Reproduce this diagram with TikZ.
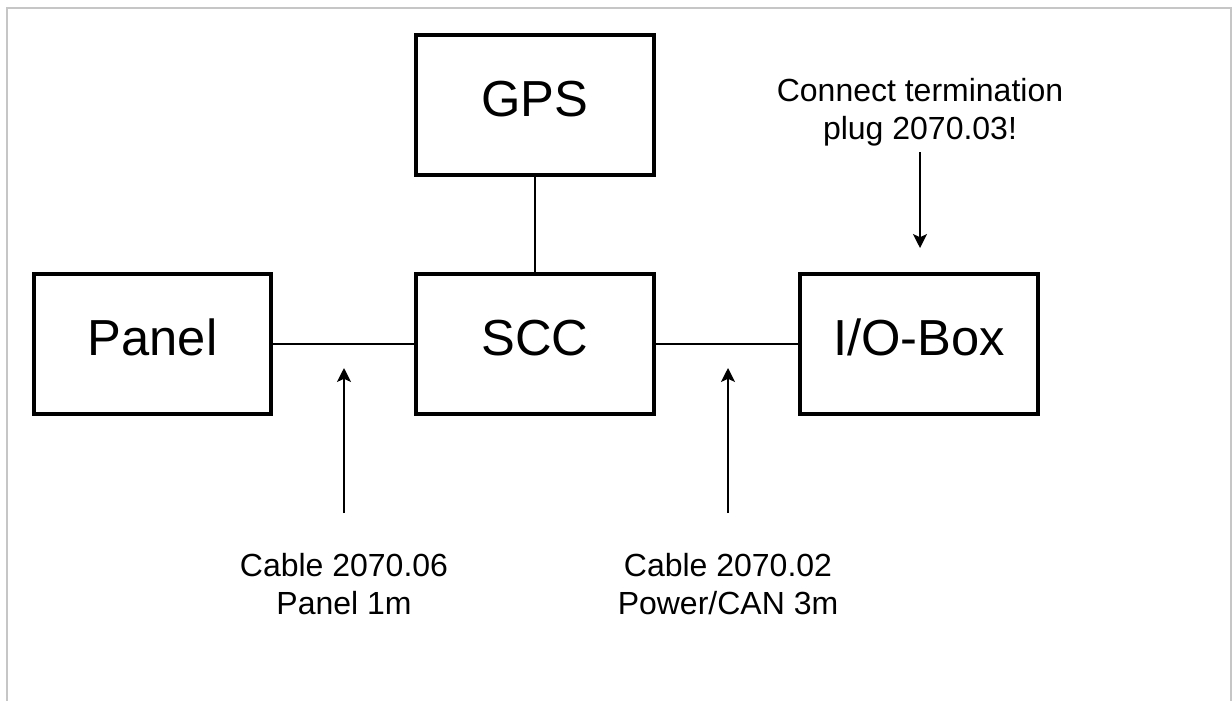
\documentclass[tikz,border=0pt]{standalone}
\usepackage{fontspec}
\setmainfont{Liberation Sans}
\usetikzlibrary{arrows.meta}
\begin{document}
\begin{tikzpicture}[x=0.75pt,y=-0.75pt,
  box/.style={draw=black,line width=3pt,minimum width=178pt,minimum height=105pt,inner sep=0pt,
    font=\fontsize{38}{45}\selectfont,text height=27pt,text depth=10pt},
  conn/.style={draw=black,line width=1.5pt},
  arr/.style={draw=black,line width=1.5pt,-{Stealth[length=10.5pt,width=10.5pt,inset=2.5pt]}},
  lbl/.style={align=center,inner sep=0pt,font=\fontsize{24}{28.5}\selectfont}
]
\useasboundingbox (0,0) rectangle (1232,700);
\draw[gray!45,line width=1.5pt] (6.5,702) -- (6.5,7.5) -- (1231,7.5) -- (1231,702);

\node[box] (panel) at (152.5,344) {Panel};
\node[box] (scc) at (535,344) {SCC};
\node[box] (gps) at (535,105) {GPS};
\node[box] (io) at (919,344) {I/O-Box};

\draw[conn] (panel) -- (scc);
\draw[conn] (scc) -- (io);
\draw[conn] (gps) -- (scc);

\node[lbl,anchor=north] (l1) at (344,553) {Cable 2070.06\\Panel 1m};
\node[lbl,anchor=north] (l2) at (728,553) {Cable 2070.02\\Power/CAN 3m};
\node[lbl,anchor=north] (l3) at (920,78) {Connect termination\\plug 2070.03!};

\coordinate (a1s) at (344,513);
\coordinate (a1e) at (344,368);
\coordinate (a2s) at (728,513);
\coordinate (a2e) at (728,368);
\coordinate (a3s) at (920,152);
\coordinate (a3e) at (920,248);

\draw[arr] (a1s) -- (a1e);
\draw[arr] (a2s) -- (a2e);
\draw[arr] (a3s) -- (a3e);
\end{tikzpicture}
\end{document}
